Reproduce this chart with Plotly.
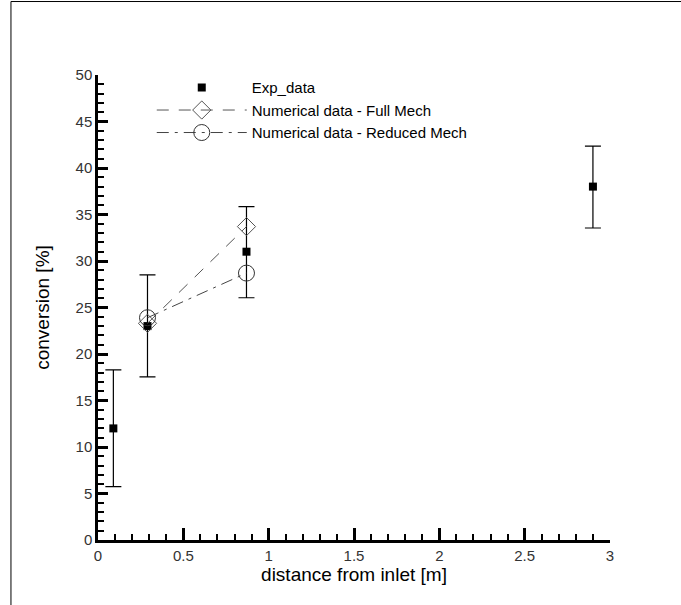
import plotly.graph_objects as go

# Experimental data
exp_x = [0.09, 0.29, 0.87, 2.90]
exp_y = [12.0, 23.0, 31.0, 38.0]
exp_err_plus = [6.3, 5.5, 4.85, 4.35]
exp_err_minus = [6.25, 5.45, 4.95, 4.45]

# Numerical data
full_x = [0.29, 0.87]
full_y = [23.3, 33.7]
red_x = [0.29, 0.87]
red_y = [23.9, 28.7]

x_ticks = [0, 0.5, 1, 1.5, 2, 2.5, 3]
x_tick_labels = ["0", "0.5", "1", "1.5", "2", "2.5", "3"]
y_ticks = [0, 5, 10, 15, 20, 25, 30, 35, 40, 45, 50]
y_tick_labels = [str(v) for v in y_ticks]

FONT = "Liberation Sans, Arial, sans-serif"

fig = go.Figure()

fig.add_trace(go.Scatter(
    x=exp_x, y=exp_y, mode="markers", name="Exp_data",
    marker=dict(symbol="square", size=8, color="black"),
    error_y=dict(type="data", symmetric=False, array=exp_err_plus,
                 arrayminus=exp_err_minus, color="black", thickness=1.2, width=8),
))
fig.add_trace(go.Scatter(
    x=full_x, y=full_y, mode="lines+markers", name="Numerical data - Full Mech",
    line=dict(color="#555555", width=1, dash="12px,10px"),
    marker=dict(symbol="diamond-open", size=14, color="#555555", line=dict(width=1)),
))
fig.add_trace(go.Scatter(
    x=red_x, y=red_y, mode="lines+markers", name="Numerical data - Reduced Mech",
    line=dict(color="#444444", width=1, dash="12px,6px,3px,6px"),
    marker=dict(symbol="circle-open", size=16, color="#333333", line=dict(width=1)),
))

axis_common = dict(
    showgrid=False, zeroline=False, showline=True, linecolor="black", linewidth=2.5,
    ticks="inside", tickcolor="black", tickwidth=2.5, mirror=False,
    tickfont=dict(family=FONT, size=15, color="#333333"),
)

fig.update_xaxes(
    range=[0, 3], tickmode="array", tickvals=x_ticks, ticktext=x_tick_labels,
    ticklen=12,
    minor=dict(dtick=0.1, ticks="inside", ticklen=6, tickwidth=1.5, tickcolor="black"),
    title=dict(text="distance from inlet [m]", font=dict(family=FONT, size=19, color="black"),
               standoff=4),
    **axis_common,
)
fig.update_yaxes(
    range=[0, 50], tickmode="array", tickvals=y_ticks, ticktext=y_tick_labels,
    ticklen=10,
    minor=dict(dtick=1, ticks="inside", ticklen=6, tickwidth=1.5, tickcolor="black"),
    title=dict(text="conversion [%]", font=dict(family=FONT, size=19, color="black"),
               standoff=21),
    **axis_common,
)

fig.update_layout(
    width=681, height=605,
    margin=dict(l=98, r=71, t=75, b=65),
    paper_bgcolor="white", plot_bgcolor="white",
    showlegend=True,
    legend=dict(x=0.105, y=1.008, xanchor="left", yanchor="top",
                bgcolor="rgba(0,0,0,0)", itemwidth=90, tracegroupgap=0,
                font=dict(family=FONT, size=15, color="black")),
)

# outer frame (left and top edges visible)
fig.add_shape(type="line", xref="paper", yref="paper",
              x0=-0.17, x1=-0.17, y0=1.158, y1=-0.2, line=dict(color="black", width=1))
fig.add_shape(type="line", xref="paper", yref="paper",
              x0=-0.17, x1=1.139, y0=1.158, y1=1.158, line=dict(color="black", width=1))

fig.write_html(
    "out.html", config={"displayModeBar": False},
    post_script=("document.body.style.margin='0';document.body.style.overflow='hidden';"
                 "document.documentElement.style.overflow='hidden';"),
)
